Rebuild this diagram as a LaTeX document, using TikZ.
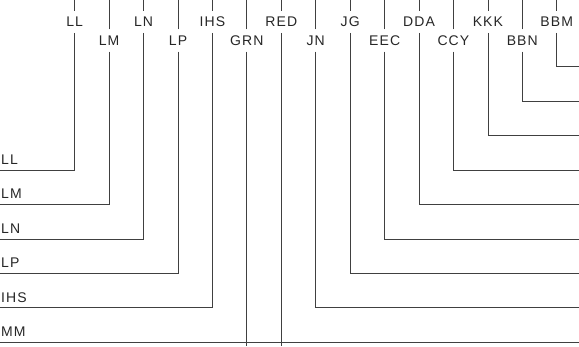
\documentclass[tikz,border=0pt]{standalone}
\usepackage{fontspec}
\setmainfont{Liberation Sans}[LetterSpace=8]
\tikzstyle{every node}=[font=\fontsize{14}{14}\selectfont, text=black!85, text height=10pt, text depth=0pt]
\tikzstyle{wire}=[line width=0.7pt, black!75]
\tikzstyle{toplabel}=[anchor=base, inner xsep=2pt, inner ysep=6pt]
\tikzstyle{sidelabel}=[anchor=south west, inner xsep=1pt, inner ysep=5.5pt]

\begin{document}
\begin{tikzpicture}[x=1pt, y=-1pt]
\useasboundingbox (0,0) rectangle (579,346);
% Labels on the wires, top row
    \node[toplabel] (LL)  at (74.7,26.7)  {LL};
    \node[toplabel] (LN)  at (143.6,26.7) {LN};
    \node[toplabel] (IHS) at (212.4,26.7) {IHS};
    \node[toplabel] (RED) at (281.3,26.7) {RED};
    \node[toplabel] (JG)  at (350.2,26.7) {JG};
    \node[toplabel] (DDA) at (419.0,26.7) {DDA};
    \node[toplabel] (KKK) at (487.9,26.7) {KKK};
    \node[toplabel] (BBM) at (556.7,26.7) {BBM};
% Labels on the wires, second row
    \node[toplabel] (LM)  at (109.1,45.5) {LM};
    \node[toplabel] (LP)  at (178.0,45.5) {LP};
    \node[toplabel] (GRN) at (246.8,45.5) {GRN};
    \node[toplabel] (JN)  at (315.7,45.5) {JN};
    \node[toplabel] (EEC) at (384.6,45.5) {EEC};
    \node[toplabel] (CCY) at (453.4,45.5) {CCY};
    \node[toplabel] (BBN) at (522.3,45.5) {BBN};
% Labels at the left edge
    \node[sidelabel] (lLL)  at (0,170.0) {LL};
    \node[sidelabel] (lLM)  at (0,204.4) {LM};
    \node[sidelabel] (lLN)  at (0,238.9) {LN};
    \node[sidelabel] (lLP)  at (0,273.3) {LP};
    \node[sidelabel] (lIHS) at (0,307.7) {IHS};
    \node[sidelabel] (lMM)  at (0,342.1) {MM};
% Ends at the right edge
    \coordinate (rBBM) at (579,66.7);
    \coordinate (rBBN) at (579,101.1);
    \coordinate (rKKK) at (579,135.6);
    \coordinate (rCCY) at (579,170.0);
    \coordinate (rDDA) at (579,204.4);
    \coordinate (rEEC) at (579,238.9);
    \coordinate (rJG)  at (579,273.3);
    \coordinate (rJN)  at (579,307.7);
    \coordinate (rMM)  at (579,342.1);
% Wires, top stubs
    \draw[wire] (LL.north)  -- (LL.north |- 0,0);
    \draw[wire] (LM.north)  -- (LM.north |- 0,0);
    \draw[wire] (LN.north)  -- (LN.north |- 0,0);
    \draw[wire] (LP.north)  -- (LP.north |- 0,0);
    \draw[wire] (IHS.north) -- (IHS.north |- 0,0);
    \draw[wire] (GRN.north) -- (GRN.north |- 0,0);
    \draw[wire] (RED.north) -- (RED.north |- 0,0);
    \draw[wire] (JN.north)  -- (JN.north |- 0,0);
    \draw[wire] (JG.north)  -- (JG.north |- 0,0);
    \draw[wire] (EEC.north) -- (EEC.north |- 0,0);
    \draw[wire] (DDA.north) -- (DDA.north |- 0,0);
    \draw[wire] (CCY.north) -- (CCY.north |- 0,0);
    \draw[wire] (KKK.north) -- (KKK.north |- 0,0);
    \draw[wire] (BBN.north) -- (BBN.north |- 0,0);
    \draw[wire] (BBM.north) -- (BBM.north |- 0,0);
% Wires, bends to the left
    \draw[wire] (LL.south)  |- (lLL.south west);
    \draw[wire] (LM.south)  |- (lLM.south west);
    \draw[wire] (LN.south)  |- (lLN.south west);
    \draw[wire] (LP.south)  |- (lLP.south west);
    \draw[wire] (IHS.south) |- (lIHS.south west);
% Wires, straight through
    \draw[wire] (GRN.south) -- (GRN.south |- 0,346);
    \draw[wire] (RED.south) -- (RED.south |- 0,346);
% Wires, bends to the right
    \draw[wire] (JN.south)  |- (rJN);
    \draw[wire] (JG.south)  |- (rJG);
    \draw[wire] (EEC.south) |- (rEEC);
    \draw[wire] (DDA.south) |- (rDDA);
    \draw[wire] (CCY.south) |- (rCCY);
    \draw[wire] (KKK.south) |- (rKKK);
    \draw[wire] (BBN.south) |- (rBBN);
    \draw[wire] (BBM.south) |- (rBBM);
% Bottom wire
    \draw[wire] (lMM.south west) -- (rMM);

\end{tikzpicture}
\end{document}
